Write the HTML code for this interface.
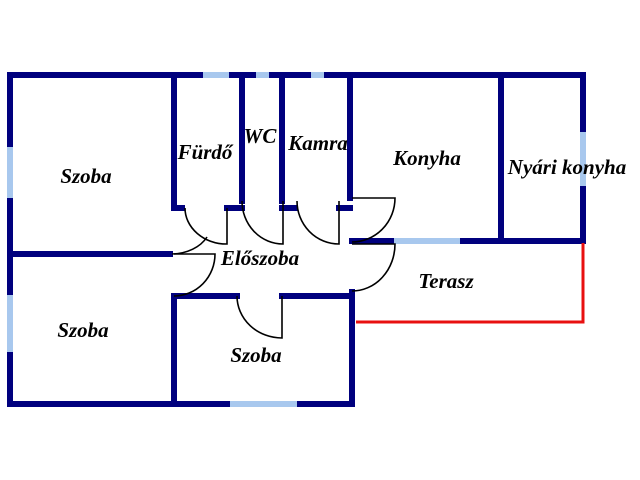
<!DOCTYPE html>
<html><head><meta charset="utf-8"><style>body{margin:0;background:#fff}svg{display:block}text{font-family:"Liberation Serif",serif;font-style:italic;font-weight:bold;font-size:21px;fill:#000;text-anchor:middle}</style></head><body>
<svg width="640" height="480" viewBox="0 0 640 480">
<g stroke="#00007e" stroke-width="6" stroke-linecap="square" fill="none">
<line x1="10" y1="75" x2="583" y2="75"/>
<line x1="10" y1="75" x2="10" y2="404"/>
<line x1="10" y1="404" x2="352" y2="404"/>
<line x1="583" y1="75" x2="583" y2="241"/>
<line x1="174" y1="75" x2="174" y2="208"/>
<line x1="174" y1="208" x2="182" y2="208"/>
<line x1="242" y1="75" x2="242" y2="201"/>
<line x1="227" y1="208" x2="242" y2="208"/>
<line x1="282" y1="75" x2="282" y2="201"/>
<line x1="282" y1="208" x2="295" y2="208"/>
<line x1="350" y1="75" x2="350" y2="198"/>
<line x1="339" y1="208" x2="350" y2="208"/>
<line x1="501" y1="75" x2="501" y2="238"/>
<line x1="10" y1="254" x2="170" y2="254"/>
<line x1="352" y1="241" x2="583" y2="241"/>
<line x1="174" y1="296" x2="237" y2="296"/>
<line x1="282" y1="296" x2="352" y2="296"/>
<line x1="174" y1="296" x2="174" y2="404"/>
<line x1="352" y1="292" x2="352" y2="404"/>
</g>
<g stroke="#a8c8ee" stroke-width="6">
<line x1="203" y1="75" x2="229" y2="75"/>
<line x1="256" y1="75" x2="269" y2="75"/>
<line x1="311" y1="75" x2="324" y2="75"/>
<line x1="10" y1="147" x2="10" y2="198"/>
<line x1="10" y1="295" x2="10" y2="352"/>
<line x1="583" y1="132" x2="583" y2="186"/>
<line x1="394" y1="241" x2="460" y2="241"/>
<line x1="230" y1="404" x2="297" y2="404"/>
</g>
<g stroke="#e81010" stroke-width="3" fill="none">
<polyline points="356,322 583,322 583,243"/>
</g>
<g stroke="#000" stroke-width="1.6" fill="none">
<path d="M227,208 L227,244 A42,36 0 0 1 185,208"/>
<path d="M283,201 L283,244 A41,43 0 0 1 242,201"/>
<path d="M339,201 L339,244 A42,43 0 0 1 297,201"/>
<path d="M352,198 L395,198 A43,44 0 0 1 352,242"/>
<path d="M352,244 L395,244 A43,47 0 0 1 352,291"/>
<path d="M174,254 L215,254 A41,42 0 0 1 174,296"/>
<path d="M282,296 L282,338 A45,42 0 0 1 237,296"/>
<path d="M172,254 A40,30 0 0 0 207,237"/>
</g>
<text x="86" y="183">Szoba</text>
<text x="205" y="159">Fürdő</text>
<text x="260" y="143">WC</text>
<text x="318" y="150">Kamra</text>
<text x="427" y="165">Konyha</text>
<text x="567" y="174">Nyári konyha</text>
<text x="260" y="265">Előszoba</text>
<text x="446" y="288">Terasz</text>
<text x="83" y="337">Szoba</text>
<text x="256" y="362">Szoba</text>
</svg>
</body></html>
